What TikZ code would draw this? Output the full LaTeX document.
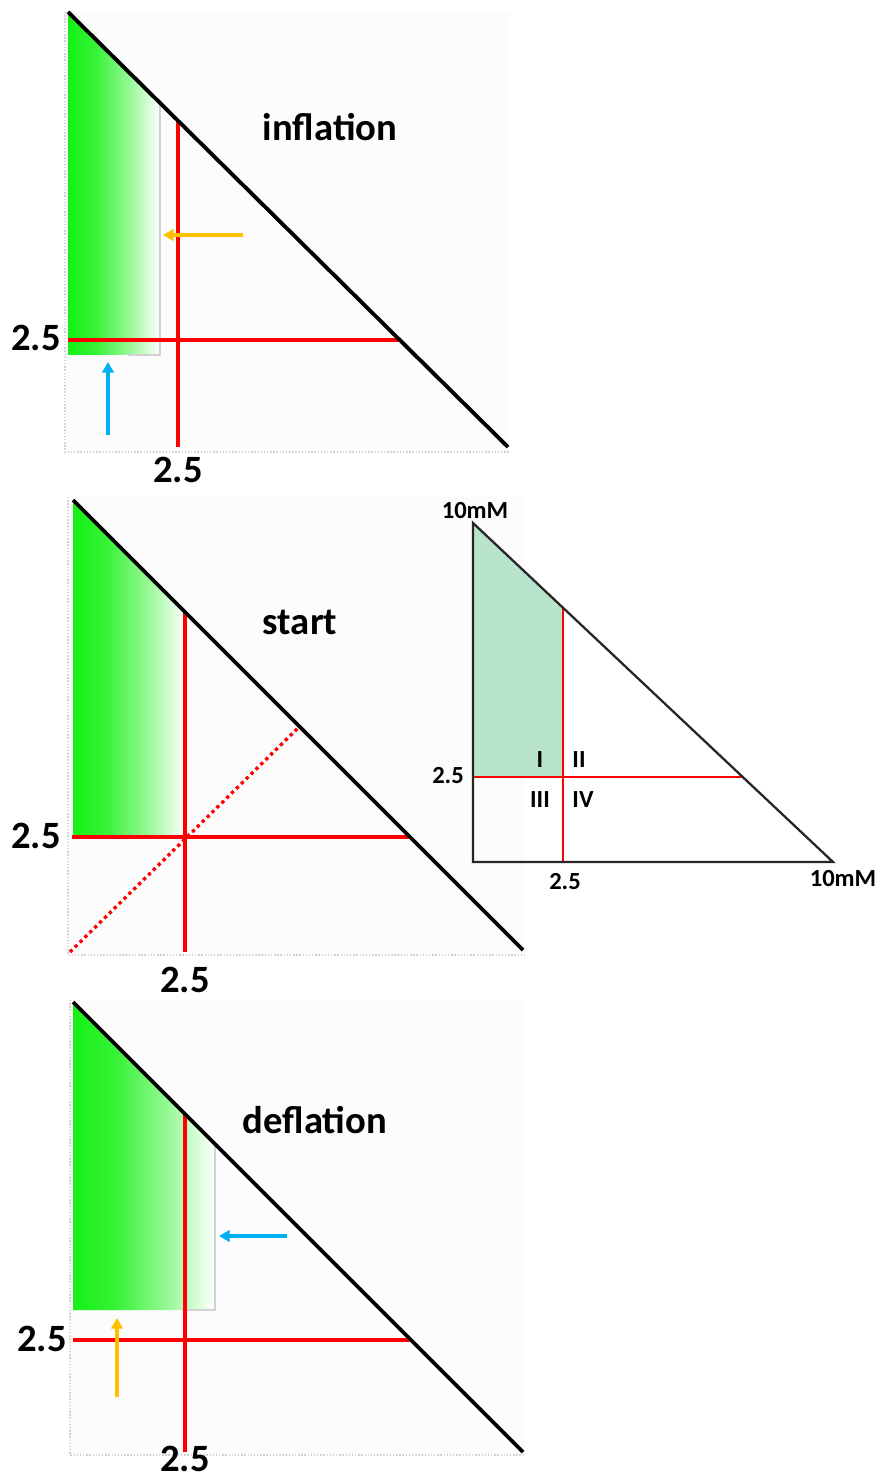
\documentclass[tikz,border=0pt]{standalone}
\usepackage{fontspec}
\setmainfont{Carlito}
\usetikzlibrary{arrows.meta}
\definecolor{plotgreen}{RGB}{20,240,20}
\definecolor{mint}{RGB}{184,228,204}
\definecolor{gold}{RGB}{255,192,0}
\definecolor{sky}{RGB}{0,176,240}
\pgfdeclarehorizontalshading{greenramp}{100bp}{color(0bp)=(plotgreen); color(25bp)=(plotgreen);
  color(40bp)=(plotgreen!85); color(58bp)=(plotgreen!45); color(75bp)=(white); color(100bp)=(white)}
\tikzset{
  plotbg/.style={fill=gray!2},
  plotaxis/.style={draw=gray!35, densely dotted, line width=0.8pt},
  greenfade/.style={shading=greenramp},
  edge/.style={draw=gray!35, line width=0.6pt},
  diag/.style={line width=2.2pt, black},
  redline/.style={line width=1.9pt, red},
  thinred/.style={line width=1.1pt, red},
  shiftarrow/.style={line width=1.8pt, -{Triangle[length=6pt,width=6.5pt]}},
  big/.style={font=\fontsize{22}{24}\selectfont\bfseries, inner sep=1pt},
  small/.style={font=\fontsize{14}{16}\selectfont\bfseries}
}
\begin{document}
\begin{tikzpicture}[x=0.02cm, y=-0.02cm]
\useasboundingbox (0,0) rectangle (882,1479);
% inflation
\fill[plotbg] (65,12) rectangle (510,452);
\draw[plotaxis] (65,12) -- (65,452) -- (510,452);
\coordinate (itop) at (68,12);
\coordinate (ibot) at (508,447);
\shade[greenfade] (68,12) -- (160,103) -- (160,355) -- (68,355) -- cycle;
\draw[edge] (160,103) -- (160,355) -- (128,355);
\coordinate (ivt) at (178,121);
\coordinate (ivb) at (178,447);
\coordinate (ihl) at (68,340);
\coordinate (ihr) at (399,340);
\draw[redline] (ivt) -- (ivb);
\draw[redline] (ihl) -- (ihr);
\draw[diag] (itop) -- (ibot);
\coordinate (igold) at (243,235);
\coordinate (isky) at (108,435);
\draw[shiftarrow, gold] (igold) -- (163,235);
\draw[shiftarrow, sky] (isky) -- (108,362);
\node[big] (inflation) at (330,127) {inflation};
\node[big] (iy) at (36,338) {2.5};
\node[big] (ix) at (178,470) {2.5};
% start
\fill[plotbg] (68,497) rectangle (525,955);
\draw[plotaxis] (68,497) -- (68,955) -- (525,955);
\coordinate (stop) at (73,500);
\coordinate (sbot) at (523,950);
\shade[greenfade] (73,500) -- (185,612) -- (185,837) -- (73,837) -- cycle;
\coordinate (svt) at (185,612);
\coordinate (svb) at (185,952);
\coordinate (shl) at (72,837);
\coordinate (shr) at (410,837);
\draw[redline] (svt) -- (svb);
\draw[redline] (shl) -- (shr);
\draw[redline, dotted] (70,952) -- (298,728);
\draw[diag] (stop) -- (sbot);
\node[big] (start) at (300,622) {start};
\node[big] (sy) at (36,836) {2.5};
\node[big] (sx) at (185,980) {2.5};
% deflation
\fill[plotbg] (70,1000) rectangle (525,1455);
\draw[plotaxis] (70,1000) -- (70,1455) -- (525,1455);
\coordinate (dtop) at (73,1002);
\coordinate (dbot) at (523,1452);
\shade[greenfade] (73,1002) -- (215,1144) -- (215,1310) -- (73,1310) -- cycle;
\draw[edge] (215,1144) -- (215,1310) -- (182,1310);
\coordinate (dvt) at (185,1114);
\coordinate (dvb) at (185,1452);
\coordinate (dhl) at (73,1340);
\coordinate (dhr) at (411,1340);
\draw[redline] (dvt) -- (dvb);
\draw[redline] (dhl) -- (dhr);
\draw[diag] (dtop) -- (dbot);
\coordinate (dsky) at (287,1236);
\coordinate (dgold) at (117,1397);
\draw[shiftarrow, sky] (dsky) -- (219,1236);
\draw[shiftarrow, gold] (dgold) -- (117,1318);
\node[big] (deflation) at (315,1120) {deflation};
\node[big] (dy) at (42,1339) {2.5};
\node[big] (dx) at (185,1459) {2.5};
% scheme
\coordinate (ka) at (473,523);
\coordinate (kb) at (473,862);
\coordinate (kc) at (833,862);
\fill[mint] (ka) -- (563,608) -- (563,777) -- (473,777) -- cycle;
\draw[thinred] (563,608) -- (563,862);
\draw[thinred] (473,777) -- (743,777);
\draw[black!85, line width=1.3pt] (ka) -- (kb) -- (kc) -- cycle;
\node[small] (ktop) at (475,511) {10mM};
\node[small] (kright) at (843,879) {10mM};
\node[small] (ky) at (448,776) {2.5};
\node[small] (kx) at (565,882) {2.5};
\node[small] (q1) at (540,760) {I};
\node[small] (q2) at (579,760) {II};
\node[small] (q3) at (540,800) {III};
\node[small] (q4) at (583,800) {IV};
\end{tikzpicture}
\end{document}
